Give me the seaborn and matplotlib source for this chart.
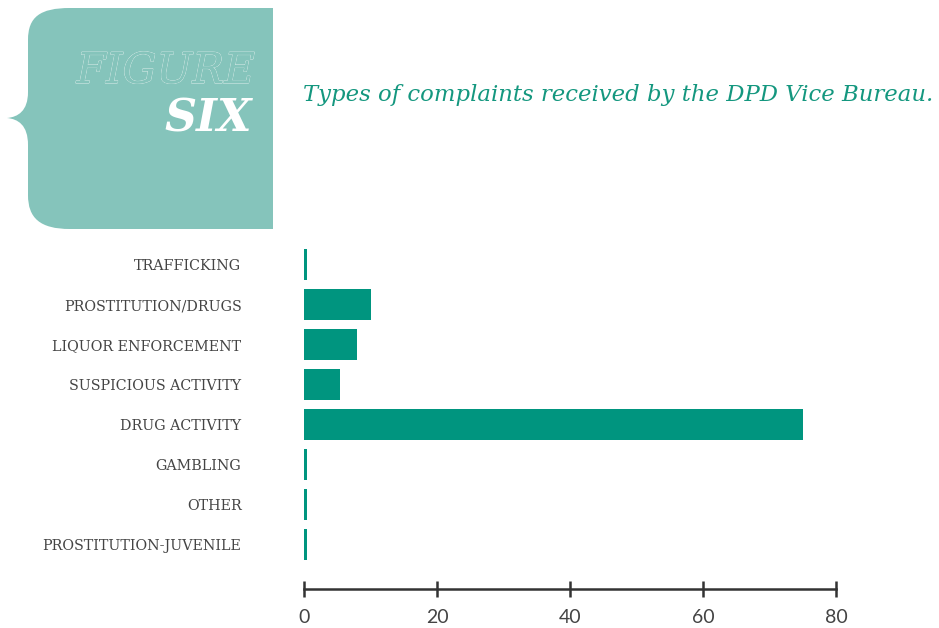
import numpy as np
import pandas as pd
import matplotlib
matplotlib.use("Agg")
import matplotlib.pyplot as plt
import seaborn as sns
from matplotlib.path import Path
from matplotlib.patches import PathPatch
import matplotlib.patheffects as pe

# data
categories = ["TRAFFICKING", "PROSTITUTION/DRUGS", "LIQUOR ENFORCEMENT",
              "SUSPICIOUS ACTIVITY", "DRUG ACTIVITY", "GAMBLING", "OTHER",
              "PROSTITUTION-JUVENILE"]
complaints = [0.5, 10, 8, 5.4, 75, 0.5, 0.5, 0.5]
x_ticks = [0, 20, 40, 60, 80]

title = "Types of complaints received by the DPD Vice Bureau."
bar_color = "#00957f"
box_color = "#85c4bb"
text_gray = "#444444"

sns.set_style("white")
plt.rcParams['font.family'] = ['DejaVu Serif']

W, H = 939, 628
fig = plt.figure(figsize=(W / 100, H / 100), dpi=100)

# overlay axes in pixel coords for the header decoration
deco = fig.add_axes([0, 0, 1, 1])
deco.set_xlim(0, W)
deco.set_ylim(H, 0)
deco.axis("off")

verts = [(70, 8), (273, 8), (273, 229), (70, 229),
         (40, 229), (28, 218), (28, 195),
         (28, 145),
         (28, 125), (18, 119), (7, 118),
         (18, 117), (28, 111), (28, 92),
         (28, 40),
         (28, 17), (40, 8), (70, 8),
         (70, 8)]
codes = [Path.MOVETO, Path.LINETO, Path.LINETO, Path.LINETO,
         Path.CURVE4, Path.CURVE4, Path.CURVE4,
         Path.LINETO,
         Path.CURVE4, Path.CURVE4, Path.CURVE4,
         Path.CURVE4, Path.CURVE4, Path.CURVE4,
         Path.LINETO,
         Path.CURVE4, Path.CURVE4, Path.CURVE4,
         Path.CLOSEPOLY]
deco.add_patch(PathPatch(Path(verts, codes), facecolor=box_color, edgecolor="none"))

fig_txt = deco.text(255, 83, "FIGURE", ha="right", va="baseline", fontsize=30.5,
                    style="italic", color=box_color)
fig_txt.set_path_effects([pe.withStroke(linewidth=0.6, foreground="#f2f8f7"), pe.Normal()])
deco.text(252, 131, "SIX", ha="right", va="baseline", fontsize=32,
          style="italic", fontweight="bold", color="white")
deco.text(303, 101, title, ha="left", va="baseline", fontsize=16.4,
          style="italic", color="#14977f")

# main bar chart
ax = fig.add_axes([304 / W, 1 - 564.5 / H, 532 / W, 320 / H])
df = pd.DataFrame({"category": categories, "complaints": complaints})
sns.barplot(data=df, x="complaints", y="category", orient="h", color=bar_color,
            width=0.78, saturation=1, linewidth=0, ax=ax)
ax.set_xlim(0, 80)
ax.set_ylim(7.5, -0.5)
ax.set_xlabel("")
ax.set_ylabel("")
for s in ["top", "right", "left"]:
    ax.spines[s].set_visible(False)
ax.spines["bottom"].set_position(("outward", 17.6))
ax.spines["bottom"].set_color("#333333")
ax.spines["bottom"].set_linewidth(1.8)
ax.tick_params(axis="x", direction="inout", length=11.5, width=1.8,
               color="#333333", pad=9, bottom=True)
ax.tick_params(axis="y", length=0, pad=45, labelsize=10.3, labelcolor=text_gray)
ax.set_xticks(x_ticks)
ax.set_xticklabels([str(t) for t in x_ticks])
for lbl in ax.get_xticklabels():
    lbl.set_fontfamily("Lato")
    lbl.set_fontweight("normal")
    lbl.set_fontsize(14)
    lbl.set_color(text_gray)

fig.savefig("out.png", dpi=100)
